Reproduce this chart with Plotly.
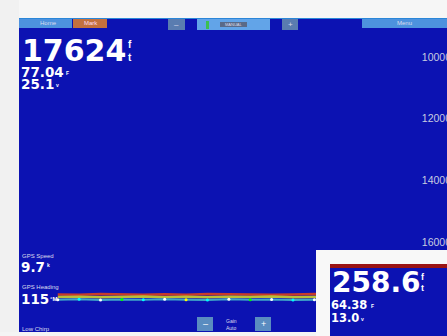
import plotly.graph_objects as go

# sonar readings shown on the screen
depth_ticks = [10000, 12000, 14000, 16000]
depth_reading = "17624"
water_temp = "77.04"
voltage = "25.1"
gps_speed = "9.7"
gps_heading = "115"
inset_depth = "258.6"
inset_temp = "64.38"
inset_volt = "13.0"

# bottom return (ping index, depth in ft)
pings = [9, 14, 19, 24, 29, 34, 39, 44, 49, 54, 59, 64, 69, 74, 79, 84, 89, 94, 99]
bottom_edge = [17700, 17710, 17690, 17705, 17715, 17695, 17710, 17690, 17705,
               17700, 17715, 17700, 17690, 17710, 17700, 17715, 17705, 17695, 17710]
bottom_mid = [17785, 17775, 17795, 17780, 17770, 17790, 17780, 17795, 17775,
              17785, 17770, 17795, 17780, 17775, 17790, 17780, 17795, 17785, 17775]
bottom_low = [17870, 17860, 17880, 17865, 17875, 17855, 17870, 17885, 17860,
              17875, 17865, 17880, 17870, 17860, 17880, 17870, 17865, 17880, 17870]
speck_colors = ["white", "cyan", "white", "lime", "cyan", "white", "yellow", "cyan",
                "white", "lime", "white", "cyan", "white", "yellow", "cyan", "white",
                "lime", "cyan", "white"]

W, H = 447, 336
BLUE = "#0c12b2"
BIG = "DejaVu Sans"


def px(x):
    return x / W


def py(y):
    return 1 - y / H


def box(x0, y0, x1, y1, color):
    return dict(type="rect", xref="paper", yref="paper", x0=px(x0), x1=px(x1),
                y0=py(y1), y1=py(y0), fillcolor=color, line_width=0, layer="above")


def label(x, y, text, size, color="white", bold=False, anchor="left", family="Liberation Sans"):
    return dict(xref="paper", yref="paper", x=px(x), y=py(y), text=text, showarrow=False,
                xanchor=anchor, yanchor="middle",
                font=dict(family=family, size=size, color=color,
                          weight="bold" if bold else "normal"))


fig = go.Figure()
fig.add_trace(go.Scatter(x=pings, y=bottom_edge, mode="lines",
                         line=dict(color="#c83a2a", width=2.5), hoverinfo="skip"))
fig.add_trace(go.Scatter(x=pings, y=bottom_mid, mode="lines",
                         line=dict(color="#b8c038", width=2.5), hoverinfo="skip"))
fig.add_trace(go.Scatter(x=pings, y=bottom_low, mode="lines+markers",
                         line=dict(color="#40a8c8", width=2),
                         marker=dict(color=speck_colors, size=3), hoverinfo="skip"))

shapes = [
    box(0, 0, 447, 18, "#f6f6f6"),
    box(0, 0, 19, 336, "#f1f1f1"),
    box(0, 332, 447, 336, "#f4f4f4"),
    box(19, 18, 447, 19, "#2a86d8"),
    # top bar
    box(19, 19, 72, 28, "#4d92de"),
    box(73, 19, 107, 28, "#c4703e"),
    box(168, 19, 185, 30, "#5a7cb0"),
    box(197, 19, 270, 30, "#62a4e8"),
    box(206, 21, 209, 29, "#3cc050"),
    box(220, 22, 247, 27, "#5a6a88"),
    box(282, 19, 298, 30, "#5a7cb0"),
    box(362, 19, 447, 28, "#4d92de"),
    # bottom buttons
    box(197, 317, 213, 331, "#5a8cc0"),
    box(255, 317, 271, 331, "#5a8cc0"),
    # inset
    box(316, 250, 447, 336, "#f8f8f8"),
    box(330, 264, 447, 336, BLUE),
    box(330, 264, 447, 268, "#9a1414"),
]

annotations = [
    label(38, 23, "Home", 6, "#dde"),
    label(82, 23, "Mark", 6, "#fde"),
    label(176, 24.5, "–", 8, "#dde", anchor="center"),
    label(290, 24.5, "+", 8, "#dde", anchor="center"),
    label(233.5, 24.5, "MANUAL", 4, "#dde", anchor="center"),
    label(404, 23, "Menu", 6, "#dde", anchor="center"),
    label(20, 50, depth_reading, 30, bold=True, family=BIG),
    label(126, 45, "f", 10, bold=True),
    label(126, 57, "t", 10, bold=True),
    label(19, 72, water_temp, 13.5, bold=True, family=BIG),
    label(64, 73, "F", 5, bold=True),
    label(19, 84, voltage, 13.5, bold=True, family=BIG),
    label(54, 85, "v", 5, bold=True),
    label(20, 256, "GPS Speed", 6, "#dde"),
    label(19, 267, gps_speed, 13.5, bold=True, family=BIG),
    label(45, 265, "k", 5, bold=True),
    label(20, 287, "GPS Heading", 6, "#dde"),
    label(19, 299, gps_heading, 13.5, bold=True, family=BIG),
    label(48, 299, "°M", 6, bold=True),
    label(20, 329, "Low Chirp", 6, "#dde"),
    label(205, 324, "–", 9, "white", anchor="center"),
    label(263, 324, "+", 9, "white", anchor="center"),
    label(232, 321, "Gain", 5, "#dde", anchor="center"),
    label(232, 328, "Auto", 5, "#dde", anchor="center"),
    label(330, 282, inset_depth, 28, bold=True, family=BIG),
    label(419, 277, "f", 9, bold=True),
    label(419, 288, "t", 9, bold=True),
    label(329, 305, inset_temp, 11.5, bold=True, family=BIG),
    label(369, 306, "F", 5, bold=True),
    label(329, 318, inset_volt, 11.5, bold=True, family=BIG),
    label(359, 319, "v", 5, bold=True),
]

fig.update_layout(
    width=W, height=H, margin=dict(l=0, r=0, t=0, b=0),
    paper_bgcolor="#f4f4f4", plot_bgcolor=BLUE,
    showlegend=False, shapes=shapes, annotations=annotations,
    xaxis=dict(range=[-4.5, 100], visible=False, automargin=False),
    yaxis=dict(range=[19050, 8150], side="right", tickvals=depth_ticks,
               ticktext=[str(t) for t in depth_ticks], ticklabelposition="inside",
               ticklabelstandoff=-7, showgrid=False, zeroline=False, ticks="",
               automargin=False,
               tickfont=dict(family="Liberation Sans", size=10.5, color="#c8cce0")),
)

# drop the default page margin so the figure fills the window exactly
fig.write_html("out.html", config={"displayModeBar": False},
               post_script="document.body.style.margin='0';document.body.style.overflow='hidden';")
